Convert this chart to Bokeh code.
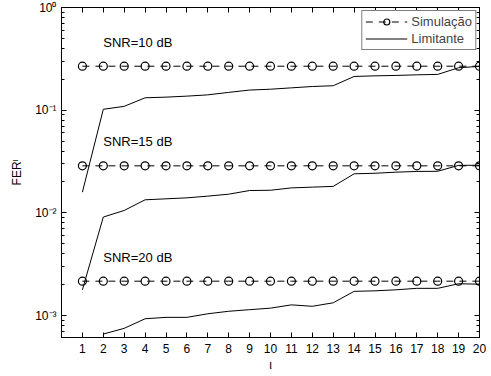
import math
from bokeh.plotting import figure
from bokeh.models import (LogAxis, LinearAxis, CustomJSTickFormatter, FixedTicker,
                          Legend, LegendItem, Label, Range1d)
from bokeh.embed import file_html
from bokeh.resources import INLINE

# Block index (iota)
iota = [1, 2, 3, 4, 5, 6, 7, 8, 9, 10, 11, 12, 13, 14, 15, 16, 17, 18, 19, 20]

# Simulated frame error rate per SNR
sim_10 = [0.268, 0.268, 0.268, 0.268, 0.268, 0.268, 0.268, 0.268, 0.268, 0.268,
          0.268, 0.268, 0.268, 0.268, 0.268, 0.268, 0.268, 0.268, 0.268, 0.268]
sim_15 = [0.0287, 0.0287, 0.0287, 0.0287, 0.0287, 0.0287, 0.0287, 0.0287, 0.0287, 0.0287,
          0.0287, 0.0287, 0.0287, 0.0287, 0.0287, 0.0287, 0.0287, 0.0287, 0.0287, 0.0287]
sim_20 = [0.00216, 0.00216, 0.00216, 0.00216, 0.00216, 0.00216, 0.00216, 0.00216, 0.00216, 0.00216,
          0.00216, 0.00216, 0.00216, 0.00216, 0.00216, 0.00216, 0.00216, 0.00216, 0.00216, 0.00216]

# Bound (limitante) per SNR
lim_10 = [0.0159, 0.102, 0.109, 0.132, 0.134, 0.137, 0.141, 0.149, 0.157, 0.160,
          0.165, 0.170, 0.173, 0.213, 0.216, 0.218, 0.221, 0.223, 0.259, 0.267]
lim_15 = [0.00178, 0.0091, 0.01055, 0.0134, 0.0137, 0.0140, 0.01455, 0.0152, 0.0165, 0.0166,
          0.0175, 0.0178, 0.0181, 0.0240, 0.0243, 0.0249, 0.0253, 0.0254, 0.0290, 0.0291]
lim_20 = [float("nan"), 0.00066, 0.00075, 0.00093, 0.00096, 0.00096, 0.00104, 0.00110, 0.00114, 0.00118,
          0.00127, 0.00123, 0.00133, 0.00172, 0.00174, 0.00178, 0.00184, 0.00184, 0.00204, 0.00202]

snr_text = ["SNR=10 dB", "SNR=15 dB", "SNR=20 dB"]
snr_text_y = [0.456, 0.0496, 0.00368]

x_ticks = iota
y_major = [1e-3, 1e-2, 1e-1, 1.0]
y_minor = [m * 10.0 ** e for e in (-4, -3, -2, -1) for m in range(2, 10)]

FONT = "Liberation Sans"

p = figure(width=491, height=376, y_axis_type="log",
           x_range=Range1d(0, 20), y_range=Range1d(10 ** -3.214, 1.0),
           output_backend="svg", toolbar_location=None,
           min_border_left=61, min_border_right=12, min_border_top=7, min_border_bottom=39)

p.xgrid.visible = False
p.ygrid.visible = False
p.outline_line_color = "black"
p.outline_line_alpha = 1.0
p.background_fill_color = "white"
p.border_fill_color = "white"

sup_js = """
const m = {"-": "\u207b", "0": "\u2070", "1": "\u00b9", "2": "\u00b2", "3": "\u00b3",
           "4": "\u2074", "5": "\u2075", "6": "\u2076", "7": "\u2077", "8": "\u2078", "9": "\u2079"};
const e = Math.round(Math.log10(tick));
return "10" + String(e).split("").map(c => m[c]).join("");
"""
blank_js = "return '';"

yt = FixedTicker(ticks=y_major, minor_ticks=y_minor)
xt = FixedTicker(ticks=x_ticks, minor_ticks=[])


def style_axis(ax):
    ax.major_tick_in = 5
    ax.major_tick_out = 0
    ax.minor_tick_in = 3
    ax.minor_tick_out = 0
    ax.axis_line_color = "black"
    ax.major_tick_line_color = "black"
    ax.minor_tick_line_color = "black"
    ax.major_label_text_font = FONT
    ax.major_label_text_font_size = "12px"
    ax.major_label_text_color = "black"
    ax.axis_label_text_font = FONT
    ax.axis_label_text_font_size = "12px"
    ax.axis_label_text_font_style = "normal"
    ax.axis_label_text_color = "black"


yaxis = p.yaxis[0]
yaxis.ticker = yt
yaxis.formatter = CustomJSTickFormatter(code=sup_js)
yaxis.axis_label = "FER\u1da5"
yaxis.axis_label_standoff = 8
yaxis.major_label_standoff = 5
style_axis(yaxis)

xaxis = p.xaxis[0]
xaxis.ticker = xt
xaxis.axis_label = "\u03b9"
xaxis.axis_label_standoff = 2
xaxis.major_label_standoff = 6
style_axis(xaxis)

right = LogAxis(ticker=yt, formatter=CustomJSTickFormatter(code=blank_js), major_label_standoff=0)
style_axis(right)
p.add_layout(right, "right")
top = LinearAxis(ticker=xt, formatter=CustomJSTickFormatter(code=blank_js), major_label_standoff=0)
style_axis(top)
p.add_layout(top, "above")

sim_r = []
for sim in (sim_10, sim_15, sim_20):
    ln = p.line(iota, sim, line_color="black", line_width=1, line_dash="7 6")
    sc = p.scatter(iota, sim, marker="circle", size=8, line_color="black",
                   line_width=1.2, fill_color=None)
    sim_r.append((ln, sc))

lim_r = []
for lim in (lim_10, lim_15, lim_20):
    lim_r.append(p.line(iota, lim, line_color="black", line_width=1))

for txt, ty in zip(snr_text, snr_text_y):
    p.add_layout(Label(x=2, y=ty, text=txt, text_font=FONT, text_font_size="13px",
                       text_baseline="middle", text_align="left", text_color="black"))

legend = Legend(items=[LegendItem(label="Simula\u00e7\u00e3o", renderers=list(sim_r[0])),
                       LegendItem(label="Limitante", renderers=[lim_r[0]])],
                location="top_right", margin=3)
legend.border_line_color = "black"
legend.border_line_width = 1
legend.background_fill_color = "white"
legend.background_fill_alpha = 1.0
legend.label_text_font = FONT
legend.label_text_font_size = "13px"
legend.glyph_width = 42
legend.glyph_height = 15
legend.label_height = 15
legend.label_standoff = 4
legend.padding = 3
legend.spacing = 2
p.add_layout(legend, "center")

open("out.html", "w").write(file_html(p, INLINE))
